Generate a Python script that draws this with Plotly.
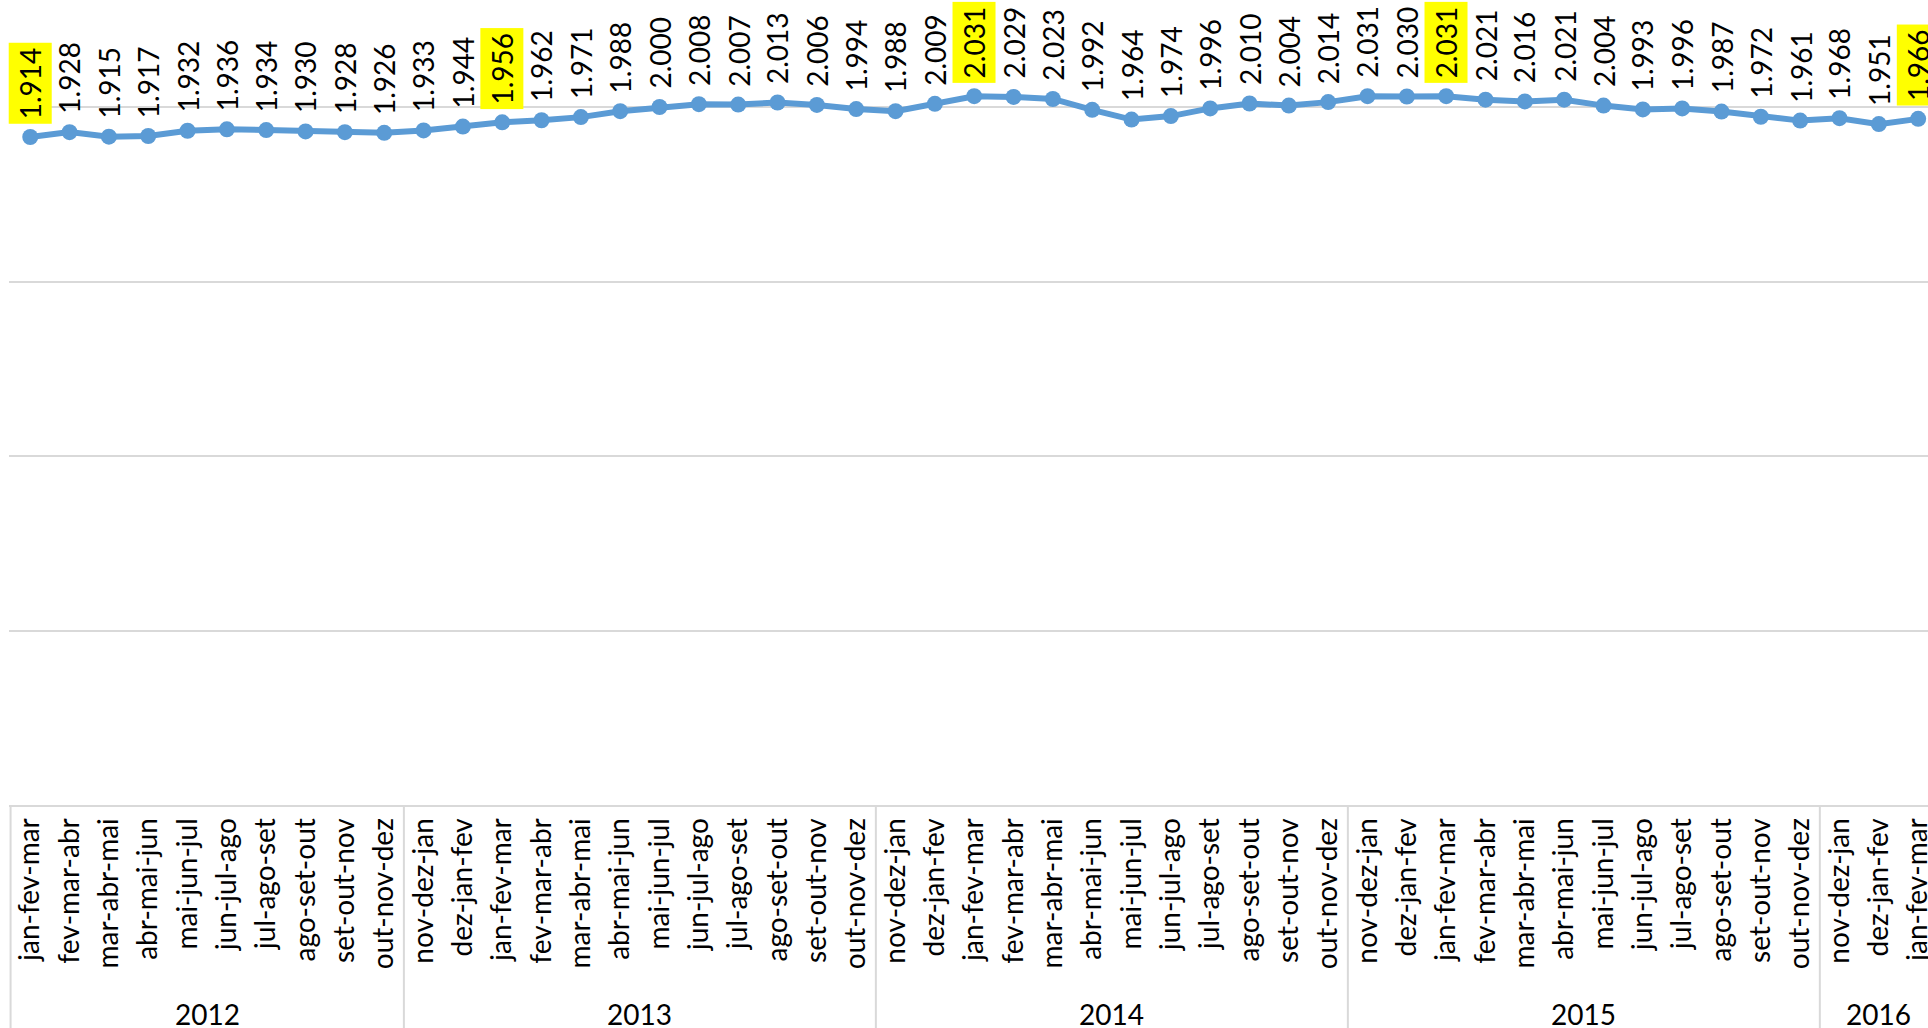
import plotly.graph_objects as go

years = ["2012", "2013", "2014", "2015", "2016"]
year_counts = [10, 12, 12, 12, 3]

periods = [
    # 2012
    "jan-fev-mar", "fev-mar-abr", "mar-abr-mai", "abr-mai-jun", "mai-jun-jul",
    "jun-jul-ago", "jul-ago-set", "ago-set-out", "set-out-nov", "out-nov-dez",
    # 2013
    "nov-dez-jan", "dez-jan-fev", "jan-fev-mar", "fev-mar-abr", "mar-abr-mai", "abr-mai-jun",
    "mai-jun-jul", "jun-jul-ago", "jul-ago-set", "ago-set-out", "set-out-nov", "out-nov-dez",
    # 2014
    "nov-dez-jan", "dez-jan-fev", "jan-fev-mar", "fev-mar-abr", "mar-abr-mai", "abr-mai-jun",
    "mai-jun-jul", "jun-jul-ago", "jul-ago-set", "ago-set-out", "set-out-nov", "out-nov-dez",
    # 2015
    "nov-dez-jan", "dez-jan-fev", "jan-fev-mar", "fev-mar-abr", "mar-abr-mai", "abr-mai-jun",
    "mai-jun-jul", "jun-jul-ago", "jul-ago-set", "ago-set-out", "set-out-nov", "out-nov-dez",
    # 2016
    "nov-dez-jan", "dez-jan-fev", "jan-fev-mar",
]

values = [
    1914, 1928, 1915, 1917, 1932, 1936, 1934, 1930, 1928, 1926,
    1933, 1944, 1956, 1962, 1971, 1988, 2000, 2008, 2007, 2013, 2006, 1994,
    1988, 2009, 2031, 2029, 2023, 1992, 1964, 1974, 1996, 2010, 2004, 2014,
    2031, 2030, 2031, 2021, 2016, 2021, 2004, 1993, 1996, 1987, 1972, 1961,
    1968, 1951, 1966,
]

highlight_period = "jan-fev-mar"

FONT = "Lato"
FS = 28
GRID = "#D9D9D9"
LINE = "#5B9BD5"

x = list(range(len(values)))

fig = go.Figure()
fig.add_trace(go.Scatter(
    x=x, y=values, mode="lines+markers",
    line=dict(color=LINE, width=6),
    marker=dict(color=LINE, size=16),
    hoverinfo="skip",
))

def fmt(v):
    return f"{v:,}".replace(",", ".")

annotations = []
for i, (p, v) in enumerate(zip(periods, values)):
    annotations.append(dict(
        x=i, y=v, xref="x", yref="y", text=fmt(v), showarrow=False,
        textangle=-90, xanchor="center", yanchor="bottom", yshift=13,
        bgcolor="#FFFF00" if p == highlight_period else "rgba(0,0,0,0)",
        borderpad=4, font=dict(family=FONT, size=FS, color="black"),
    ))

# year group labels and dividers
shapes = []
start = 0
bounds = [-0.5]
for yr, n in zip(years, year_counts):
    center = start + (n - 1) / 2
    annotations.append(dict(
        x=center, y=-0.2596, xref="x", yref="paper", text=yr, showarrow=False,
        xanchor="center", yanchor="middle",
        font=dict(family=FONT, size=FS, color="black"),
    ))
    start += n
    bounds.append(start - 0.5)

for b in bounds:
    shapes.append(dict(
        type="line", xref="x", yref="paper", x0=b, x1=b, y0=0, y1=-0.3,
        line=dict(color=GRID, width=2),
    ))

fig.update_layout(
    width=1928, height=1028,
    margin=dict(l=9, r=0, t=0, b=223, pad=0),
    plot_bgcolor="white", paper_bgcolor="white",
    showlegend=False,
    separators=",.",
    annotations=annotations,
    shapes=shapes,
    font=dict(family=FONT, size=FS, color="black"),
)
fig.update_xaxes(
    range=[-0.54, 48.25], automargin=False,
    tickmode="array", tickvals=x, ticktext=periods, tickangle=-90,
    tickfont=dict(family=FONT, size=FS, color="black"),
    ticklabeloverflow="allow", ticklabelstandoff=0,
    showgrid=False, zeroline=False,
    showline=True, linecolor=GRID, linewidth=2,
    ticks="",
)
fig.update_yaxes(
    range=[0, 2306.6], dtick=500, tick0=0, automargin=False,
    showgrid=True, gridcolor=GRID, gridwidth=2,
    showticklabels=False, zeroline=False, showline=False, ticks="",
)

fig.write_html(
    "out.html",
    config={"displayModeBar": False},
    post_script="document.body.style.margin='0';document.body.style.overflow='hidden';",
)
